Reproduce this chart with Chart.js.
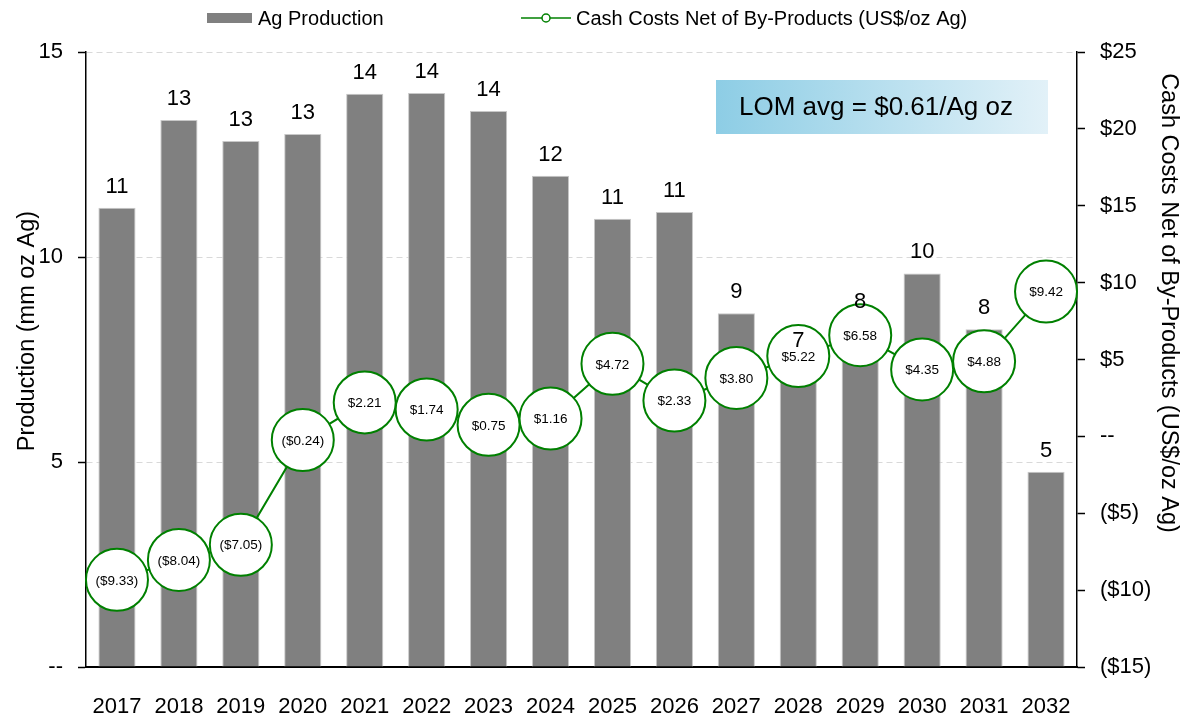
<!DOCTYPE html>
<html>
<head>
<meta charset="utf-8">
<script src="https://cdn.jsdelivr.net/npm/chart.js@4.4.0/dist/chart.umd.min.js"></script>
<style>
  html, body { margin: 0; padding: 0; background: #ffffff; }
  #wrap { width: 1193px; height: 717px; position: relative; }
</style>
</head>
<body>
<div id="wrap"><canvas id="c" width="1193" height="717"></canvas></div>
<script>
// Annual silver production and cash costs, 2017-2032
const years = ['2017', '2018', '2019', '2020', '2021', '2022', '2023', '2024',
               '2025', '2026', '2027', '2028', '2029', '2030', '2031', '2032'];
// Ag production, mm oz
const agProduction = [11.2, 13.34, 12.83, 13.0, 13.98, 14.0, 13.56, 11.98,
                      10.93, 11.1, 8.63, 7.45, 8.4, 9.6, 8.24, 4.76];
// Cash costs net of by-products, US$/oz Ag
const cashCosts = [-9.33, -8.04, -7.05, -0.24, 2.21, 1.74, 0.75, 1.16,
                   4.72, 2.33, 3.80, 5.22, 6.58, 4.35, 4.88, 9.42];
const productionTicks = [0, 5, 10, 15];
const costTicks = [-15, -10, -5, 0, 5, 10, 15, 20, 25];
const lomAverage = 0.61;

const FONT = "'Liberation Sans', Arial, Helvetica, sans-serif";
const GREEN = '#008000';
const BAR_GREY = '#808080';

function fmtCost(v) {
  const s = '$' + Math.abs(v).toFixed(2);
  return v < 0 ? '(' + s + ')' : s;
}
function fmtCostTick(v) {
  if (v === 0) return '--';
  return v < 0 ? '($' + Math.abs(v) + ')' : '$' + v;
}

const overlay = {
  id: 'overlay',
  afterDatasetsDraw(chart) {
    const ctx = chart.ctx;
    ctx.save();

    // bar value labels
    const barMeta = chart.getDatasetMeta(0);
    ctx.fillStyle = '#000';
    ctx.font = '22px ' + FONT;
    ctx.textAlign = 'center';
    ctx.textBaseline = 'middle';
    barMeta.data.forEach((bar, i) => {
      ctx.fillText(String(Math.round(agProduction[i])), bar.x, bar.y - 21);
    });

    // cost labels inside the circles
    const lineMeta = chart.getDatasetMeta(1);
    ctx.font = '13.5px ' + FONT;
    ctx.fillStyle = '#000';
    lineMeta.data.forEach((pt, i) => {
      ctx.fillText(fmtCost(cashCosts[i]), pt.x, pt.y + 1);
    });

    // life-of-mine average box
    const bx = 716, by = 80, bw = 332, bh = 54;
    const g = ctx.createLinearGradient(bx, 0, bx + bw, 0);
    g.addColorStop(0, '#8dcde5');
    g.addColorStop(1, '#e2f1f8');
    ctx.fillStyle = g;
    ctx.fillRect(bx, by, bw, bh);
    ctx.fillStyle = '#000';
    ctx.font = '26px ' + FONT;
    ctx.textAlign = 'center';
    ctx.fillText('LOM avg = $' + lomAverage.toFixed(2) + '/Ag oz', bx + bw / 2 - 6, by + bh / 2 + 1);

    // legend
    ctx.font = '20px ' + FONT;
    ctx.textAlign = 'left';
    ctx.fillStyle = BAR_GREY;
    ctx.fillRect(207, 13, 45, 10);
    ctx.fillStyle = '#000';
    ctx.fillText(chart.data.datasets[0].label, 258, 19);
    ctx.strokeStyle = GREEN;
    ctx.lineWidth = 1.5;
    ctx.beginPath();
    ctx.moveTo(521, 18); ctx.lineTo(571, 18);
    ctx.stroke();
    ctx.beginPath();
    ctx.arc(546, 18, 4, 0, Math.PI * 2);
    ctx.fillStyle = '#fff';
    ctx.fill();
    ctx.stroke();
    ctx.fillStyle = '#000';
    ctx.fillText(chart.data.datasets[1].label, 576, 19);

    // axis titles
    ctx.font = '23.5px ' + FONT;
    ctx.textAlign = 'center';
    ctx.save();
    ctx.translate(28, 331);
    ctx.rotate(-Math.PI / 2);
    ctx.fillText('Production (mm oz Ag)', 0, 0);
    ctx.restore();
    ctx.save();
    ctx.translate(1168, 303);
    ctx.rotate(Math.PI / 2);
    ctx.fillText('Cash Costs Net of By-Products (US$/oz Ag)', 0, 0);
    ctx.restore();

    ctx.restore();
  }
};

new Chart(document.getElementById('c'), {
  data: {
    labels: years,
    datasets: [
      {
        type: 'bar',
        label: 'Ag Production',
        data: agProduction,
        yAxisID: 'y',
        backgroundColor: BAR_GREY,
        borderColor: '#c8c8c8',
        borderWidth: 1,
        categoryPercentage: 1.0,
        barPercentage: 0.6,
        order: 2
      },
      {
        type: 'line',
        label: 'Cash Costs Net of By-Products (US$/oz Ag)',
        data: cashCosts,
        yAxisID: 'y2',
        borderColor: GREEN,
        borderWidth: 2,
        pointRadius: 31,
        pointBorderWidth: 2,
        pointBackgroundColor: '#ffffff',
        pointBorderColor: GREEN,
        tension: 0,
        clip: false,
        order: 1
      }
    ]
  },
  options: {
    responsive: false,
    animation: false,
    layout: { padding: { top: 52, left: 0, right: 0, bottom: 0 } },
    plugins: { legend: { display: false }, tooltip: { enabled: false } },
    scales: {
      x: {
        grid: { display: false, drawTicks: false },
        border: { display: true, color: '#000', width: 2 },
        ticks: { font: { family: FONT, size: 22 }, color: '#000', padding: 27, maxRotation: 0, autoSkip: false },
        afterFit(s) { s.height = 50; }
      },
      y: {
        position: 'left',
        min: 0, max: 15,
        afterBuildTicks(s) { s.ticks = productionTicks.map(v => ({ value: v })); },
        ticks: {
          font: { family: FONT, size: 22 }, color: '#000', padding: 15,
          callback: v => (v === 0 ? '--' : String(v))
        },
        grid: { color: '#d9d9d9', lineWidth: 1, tickColor: '#000', tickLength: 8, tickWidth: 1.5 },
        border: { display: true, color: '#000', width: 1.5, dash: [6, 4] },
        afterFit(s) { s.width = 86; }
      },
      y2: {
        position: 'right',
        min: -15, max: 25,
        afterBuildTicks(s) { s.ticks = costTicks.map(v => ({ value: v })); },
        ticks: {
          font: { family: FONT, size: 22 }, color: '#000', padding: 15,
          callback: v => fmtCostTick(v)
        },
        grid: { drawOnChartArea: false, tickColor: '#000', tickLength: 8, tickWidth: 1.5 },
        border: { display: true, color: '#000', width: 1.5 },
        afterFit(s) { s.width = 116; }
      }
    }
  },
  plugins: [overlay]
});
</script>
</body>
</html>
